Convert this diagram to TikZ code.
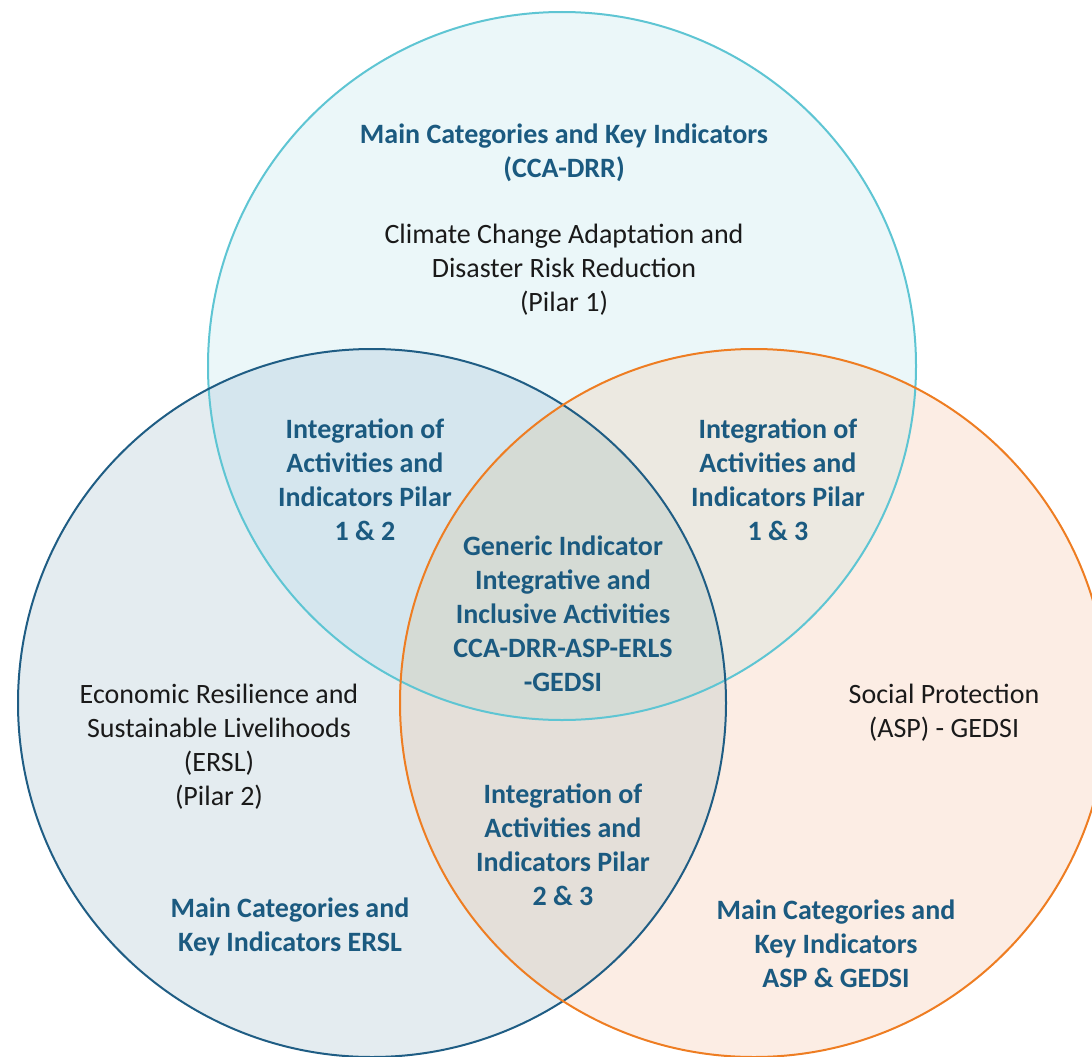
\documentclass[tikz,border=0pt]{standalone}
\usepackage{fontspec}
\setmainfont{Carlito}
\definecolor{topfill}{HTML}{EBF7F9}
\definecolor{topline}{HTML}{5EC5D3}
\definecolor{leftfill}{HTML}{E4ECF0}
\definecolor{leftline}{HTML}{1F5D84}
\definecolor{rightfill}{HTML}{FCEDE4}
\definecolor{rightline}{HTML}{EE7D22}
\definecolor{tlfill}{HTML}{D5E6EE}
\definecolor{trfill}{HTML}{ECE9E1}
\definecolor{lrfill}{HTML}{E4DFD9}
\definecolor{allfill}{HTML}{D5DBD5}
\definecolor{headblue}{HTML}{1B5A80}
\definecolor{bodyblack}{HTML}{1A1A1A}
\begin{document}
\begin{tikzpicture}[x=1pt,y=-1pt,
  headtext/.style={font=\fontsize{28}{34}\selectfont\bfseries, text=headblue, align=center, inner sep=0pt},
  bodytext/.style={font=\fontsize{28}{34}\selectfont, text=bodyblack, align=center, inner sep=0pt},
  ring/.style={line width=2pt}]
\useasboundingbox (0,0) rectangle (1092,1057);
\clip (0,0) rectangle (1092,1057);
\def\topC{(562,366) circle (354pt)}
\def\leftC{(372,703) circle (354pt)}
\def\rightC{(754,703) circle (354pt)}
% base fills
\fill[topfill] \topC;
\fill[leftfill] \leftC;
\fill[rightfill] \rightC;
% pairwise overlaps
\begin{scope}\clip \topC; \fill[tlfill] \leftC; \end{scope}
\begin{scope}\clip \topC; \fill[trfill] \rightC; \end{scope}
\begin{scope}\clip \leftC; \fill[lrfill] \rightC; \end{scope}
\begin{scope}\clip \topC; \clip \leftC; \fill[allfill] \rightC; \end{scope}
% outlines
\draw[ring, topline] \topC;
\draw[ring, leftline] \leftC;
\draw[ring, rightline] \rightC;
% texts
\node[headtext] (topHead) at (564,153) {Main Categories and Key Indicators\\(CCA-DRR)};
\node[bodytext] (topBody) at (564,270) {Climate Change Adaptation and\\Disaster Risk Reduction\\(Pilar 1)};
\node[headtext] (int12) at (365,480) {Integration of\\Activities and\\Indicators Pilar\\1 \& 2};
\node[headtext] (int13) at (778,480) {Integration of\\Activities and\\Indicators Pilar\\1 \& 3};
\node[headtext] (generic) at (563,614) {Generic Indicator\\Integrative and\\Inclusive Activities\\CCA-DRR-ASP-ERLS\\-GEDSI};
\node[bodytext] (leftBody) at (219,747) {Economic Resilience and\\Sustainable Livelihoods\\(ERSL)\\(Pilar 2)};
\node[headtext] (int23) at (563,845) {Integration of\\Activities and\\Indicators Pilar\\2 \& 3};
\node[headtext] (leftHead) at (290,927) {Main Categories and\\Key Indicators ERSL};
\node[headtext] (rightHead) at (836,944) {Main Categories and\\Key Indicators\\ASP \& GEDSI};
\node[bodytext] (rightBody) at (944,713) {Social Protection\\(ASP) - GEDSI};
\end{tikzpicture}
\end{document}
